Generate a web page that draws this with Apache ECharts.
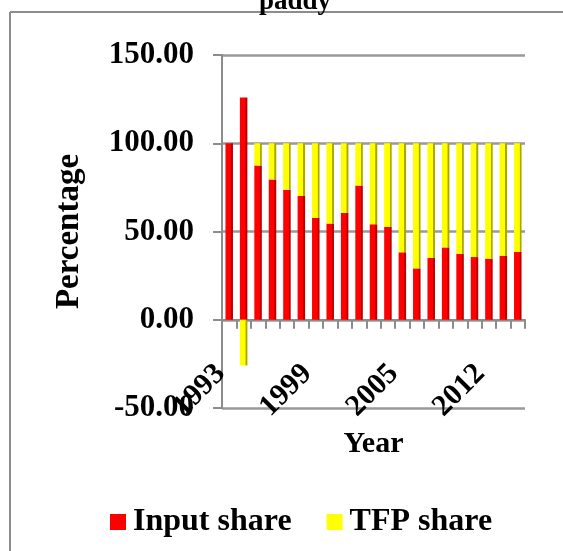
<!DOCTYPE html>
<html>
<head>
<meta charset="utf-8">
<script src="https://cdn.jsdelivr.net/npm/echarts@6/dist/echarts.min.js"></script>
<style>html,body{margin:0;padding:0;background:#fff}#c{width:563px;height:551px}</style>
</head>
<body>
<div id="c"></div>
<script>
var years = ['1993','1994','1995','1996','1997','1998','1999','2000','2001','2002','2003','2004','2005','2006','2007','2009','2010','2011','2012','2013','2014'];
var inputShare = [100, 125.9, 87.4, 79.5, 73.7, 70.1, 57.7, 54.5, 60.5, 76.0, 54.1, 52.6, 38.2, 29.1, 35.0, 41.0, 37.4, 35.5, 34.6, 36.3, 38.4];
var tfpShare = [0, -25.9, 12.6, 20.5, 26.3, 29.9, 42.3, 45.5, 39.5, 24.0, 45.9, 47.4, 61.8, 70.9, 65.0, 59.0, 62.6, 64.5, 65.4, 63.7, 61.6];
var yTicks = [-50, 0, 50, 100, 150];

var FONT = 'Liberation Serif';
function grad(c1, c2) {
  return new echarts.graphic.LinearGradient(0, 0, 1, 0, [
    {offset: 0, color: c1}, {offset: 0.72, color: c1},
    {offset: 0.78, color: c2}, {offset: 1, color: c2}
  ]);
}
var GRID_TOP = 55, GRID_BOTTOM = 143, H = 551;
var plotH = H - GRID_TOP - GRID_BOTTOM;
var yMin = -50, yMax = 150;
// move the category axis up to the value 0 line
var zeroOffset = -plotH * (0 - yMin) / (yMax - yMin);

var chart = echarts.init(document.getElementById('c'), null, {renderer: 'canvas'});
chart.setOption({
  animation: false,
  backgroundColor: '#ffffff',
  graphic: [
    {type: 'line', shape: {x1: 10, y1: 12, x2: 563, y2: 12}, style: {stroke: '#8c8c8c', lineWidth: 2}},
    {type: 'line', shape: {x1: 10, y1: 12, x2: 10, y2: 551}, style: {stroke: '#8c8c8c', lineWidth: 2}},
    {type: 'text', left: 259, top: -11, style: {text: 'paddy', font: 'bold 27px "Liberation Serif"', fill: '#000'}}
  ],
  legend: {
    left: 105, top: 501,
    itemWidth: 16, itemHeight: 16, itemGap: 35,
    icon: 'rect',
    textStyle: {fontFamily: FONT, fontWeight: 'bold', fontSize: 32, color: '#000', padding: [0, 0, 0, 2]},
    data: [
      {name: 'Input share', itemStyle: {color: '#ff0000'}},
      {name: 'TFP share', itemStyle: {color: '#ffff00'}}
    ]
  },
  grid: {left: 222, right: 38, top: GRID_TOP, bottom: GRID_BOTTOM},
  xAxis: {
    type: 'category',
    data: years,
    offset: zeroOffset,
    name: 'Year', nameLocation: 'middle', nameGap: 99,
    nameTextStyle: {fontFamily: FONT, fontWeight: 'bold', fontSize: 30, color: '#000'},
    axisLine: {onZero: false, lineStyle: {color: '#8c8c8c', width: 2}},
    axisTick: {show: true, interval: 0, length: 9, lineStyle: {color: '#8c8c8c', width: 2}},
    axisLabel: {interval: 5, rotate: 45, margin: 41, padding: [0, 12, 0, 0], fontFamily: FONT, fontWeight: 'bold', fontSize: 30, color: '#000'}
  },
  yAxis: {
    type: 'value', min: yMin, max: yMax, interval: 50,
    name: 'Percentage', nameLocation: 'middle', nameGap: 136,
    nameTextStyle: {fontFamily: FONT, fontWeight: 'bold', fontSize: 33, color: '#000'},
    axisLine: {show: true, lineStyle: {color: '#8c8c8c', width: 2}},
    axisTick: {show: true, length: 9, lineStyle: {color: '#8c8c8c', width: 2}},
    axisLabel: {margin: 28, fontFamily: FONT, fontWeight: 'bold', fontSize: 31, color: '#000',
      formatter: function (v) { return yTicks.indexOf(v) >= 0 ? v.toFixed(2) : ''; }},
    splitLine: {show: true, lineStyle: {color: '#999999', width: 2.5}}
  },
  series: [
    {name: 'Input share', type: 'bar', stack: 's', barWidth: '52%', data: inputShare,
      itemStyle: {color: grad('#ff0000', '#b80000')}},
    {name: 'TFP share', type: 'bar', stack: 's', barWidth: '52%', data: tfpShare,
      itemStyle: {color: grad('#ffff00', '#a8a800')}}
  ]
});
</script>
</body>
</html>
